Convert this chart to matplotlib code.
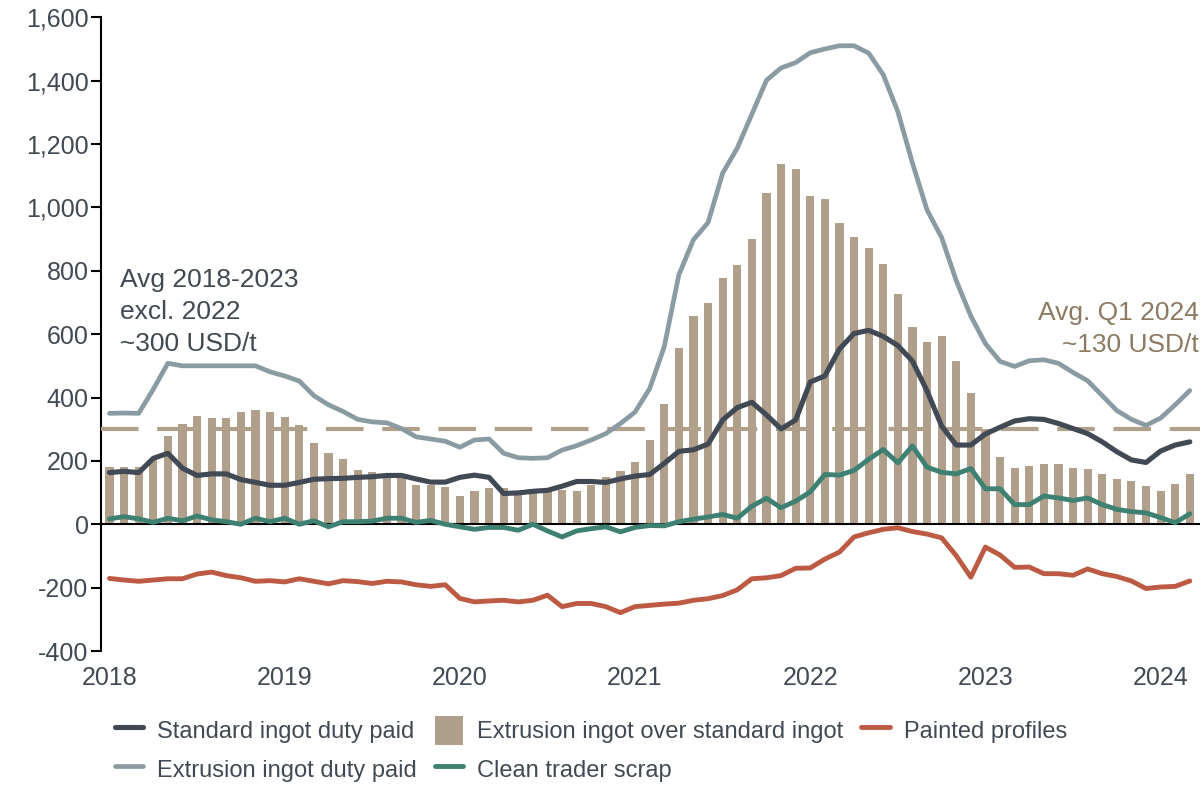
import numpy as np
import matplotlib
matplotlib.use("Agg")
import matplotlib.pyplot as plt
from matplotlib.ticker import FuncFormatter

plt.rcParams['font.family'] = ['Liberation Sans', 'DejaVu Sans']

# monthly, Jan 2018 .. Mar 2024 (USD/t)
years = ['2018', '2019', '2020', '2021', '2022', '2023', '2024']

extrusion_premium = [181, 181, 181, 205, 279, 315, 341, 336, 335, 354, 362, 353,
                     338, 313, 255, 224, 206, 170, 164, 158, 145, 123, 125, 118,
                     89, 105, 114, 115, 92, 100, 105, 108, 106, 125, 148, 168,
                     198, 265, 380, 557, 656, 698, 777, 819, 900, 1045, 1137, 1121,
                     1036, 1028, 950, 905, 873, 821, 726, 624, 575, 594, 515, 413,
                     300, 213, 178, 183, 191, 191, 179, 173, 158, 144, 137, 122,
                     104, 128, 158]

standard_ingot = [163, 167, 163, 208, 224, 177, 154, 159, 159, 141, 132, 123,
                  123, 132, 142, 144, 145, 148, 150, 154, 154, 143, 133, 133,
                  148, 155, 148, 97, 99, 104, 107, 120, 135, 135, 132, 143,
                  152, 157, 192, 230, 235, 253, 329, 368, 385, 345, 301, 329,
                  449, 468, 553, 602, 612, 593, 564, 515, 421, 310, 250, 250,
                  285, 306, 326, 333, 331, 318, 302, 286, 260, 229, 203, 195,
                  231, 250, 260]

extrusion_ingot = [350, 351, 350, 426, 508, 500, 500, 500, 500, 500, 500, 481,
                   468, 452, 406, 377, 356, 331, 323, 320, 302, 276, 269, 262,
                   243, 266, 269, 224, 210, 208, 210, 234, 248, 266, 286, 318,
                   354, 428, 560, 787, 898, 952, 1108, 1187, 1294, 1401, 1440, 1457,
                   1488, 1500, 1510, 1510, 1487, 1419, 1302, 1140, 992, 905, 769, 657,
                   570, 514, 498, 516, 519, 508, 479, 453, 406, 359, 331, 312,
                   335, 377, 422]

clean_scrap = [17, 24, 17, 6, 19, 11, 26, 14, 8, 0, 19, 8,
               19, 0, 11, -8, 8, 8, 10, 19, 19, 6, 12, 0,
               -8, -16, -10, -10, -19, 0, -21, -40, -21, -14, -8, -24,
               -10, -4, -5, 8, 16, 23, 31, 19, 57, 82, 52, 73,
               102, 157, 155, 170, 205, 236, 194, 247, 180, 164, 159, 176,
               112, 112, 62, 62, 89, 83, 75, 83, 62, 47, 40, 36,
               21, 5, 33]

painted_profiles = [-171, -176, -180, -176, -172, -172, -157, -151, -162, -169, -180, -178,
                    -182, -172, -180, -188, -178, -181, -187, -180, -182, -191, -196, -191,
                    -234, -245, -242, -240, -245, -240, -224, -260, -250, -250, -260, -279,
                    -260, -256, -252, -249, -240, -235, -225, -207, -172, -169, -162, -139,
                    -138, -110, -88, -40, -27, -16, -11, -23, -31, -43, -99, -167,
                    -72, -97, -136, -135, -156, -156, -161, -141, -156, -165, -179, -203,
                    -198, -196, -179]

avg_level = 300

c_dark = '#414a54'
c_grey = '#8a9ba4'
c_bar = '#b09f8a'
c_red = '#bd5a43'
c_teal = '#3e8072'
c_text = '#414a54'
c_brown = '#8c7a62'

x = np.arange(len(extrusion_premium))

fig = plt.figure(figsize=(12.04, 7.85), dpi=100)
ax = fig.add_axes([0.0839, 0.1707, 0.9128, 0.8073])

bars = ax.bar(x, extrusion_premium, width=0.56, color=c_bar, zorder=2)
ax.axhline(0, color='black', lw=1.5, zorder=3)
ax.axhline(avg_level, color=c_bar, lw=3, dashes=(9, 4.5), zorder=3)
l_std, = ax.plot(x, standard_ingot, color=c_dark, lw=3.7, zorder=5)
l_ext, = ax.plot(x, extrusion_ingot, color=c_grey, lw=3.4, zorder=4)
l_scr, = ax.plot(x, clean_scrap, color=c_teal, lw=3.5, zorder=4)
l_pnt, = ax.plot(x, painted_profiles, color=c_red, lw=3.5, zorder=4)

ax.set_xlim(-0.58, 74.7)
ax.set_ylim(-400, 1600)
ax.set_yticks(range(-400, 1601, 200))
ax.yaxis.set_major_formatter(FuncFormatter(lambda v, p: f'{v:,.0f}'))
ax.set_xticks(np.arange(0, 73, 12))
ax.set_xticklabels(years)
ax.tick_params(axis='y', length=7, width=1.5, labelsize=18, labelcolor=c_text, pad=2)
ax.tick_params(axis='x', length=0, labelsize=18, labelcolor=c_text, pad=11)
for s in ['top', 'right', 'bottom']:
    ax.spines[s].set_visible(False)
ax.spines['left'].set_linewidth(1.5)

ax.text(0.7, 810, 'Avg 2018-2023\nexcl. 2022\n~300 USD/t', fontsize=19, color=c_text,
        va='top', ha='left', linespacing=1.42)
ax.text(74.6, 705, 'Avg. Q1 2024\n~130 USD/t', fontsize=19, color=c_brown,
        va='top', ha='right', linespacing=1.42)

for ln in (l_std, l_ext, l_scr, l_pnt):
    ln.set_solid_capstyle('round')

handles = [l_std, l_ext, bars, l_scr, l_pnt]
labels = ['Standard ingot duty paid', 'Extrusion ingot duty paid',
          'Extrusion ingot over standard ingot', 'Clean trader scrap', 'Painted profiles']
leg = fig.legend(handles, labels, ncol=3, loc='upper left', bbox_to_anchor=(0.0955, 0.088),
                 frameon=False, fontsize=17, handlelength=1.2, handleheight=1.55,
                 handletextpad=0.6, columnspacing=0.75, labelspacing=0.38,
                 borderaxespad=0, borderpad=0)
for t in leg.get_texts():
    t.set_color(c_text)

fig.savefig('out.png', dpi=100)
